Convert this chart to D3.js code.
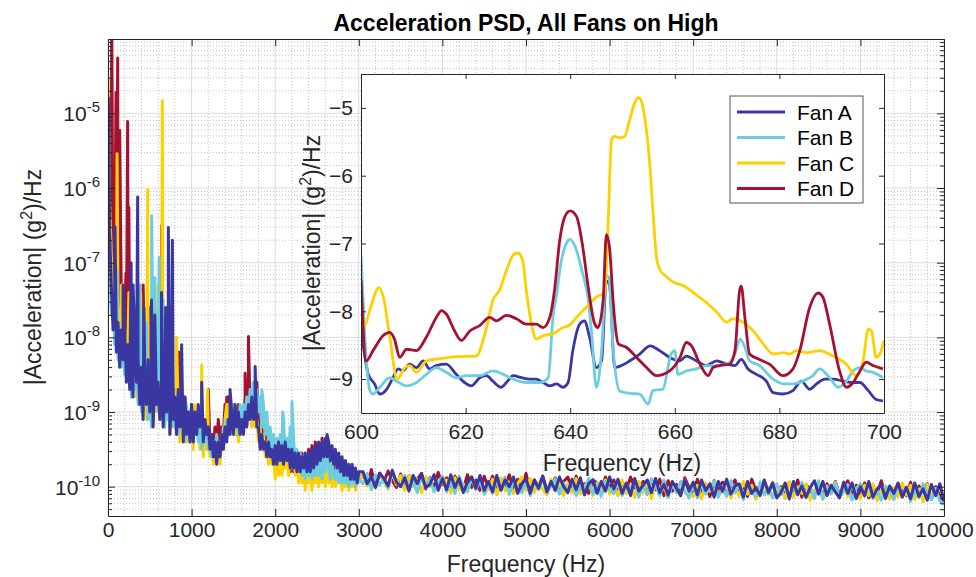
<!DOCTYPE html>
<html>
<head>
<meta charset="utf-8">
<script src="https://cdn.jsdelivr.net/npm/d3@7/dist/d3.min.js"></script>
<style>
  body { margin: 0; background: #fff; }
  svg { font-family: "Liberation Sans", Arial, Helvetica, sans-serif; }
</style>
</head>
<body>
<div id="root"></div>
<script>
// ---- data (log10 of PSD, g^2/Hz) ----
// 0..3000 Hz every 20 Hz
const lowStep = 20;
// 3050..10000 Hz every 50 Hz
const highStart = 3050;
const highStep = 50;

const fanALow = [
  -4.9, -6.6, -7.3, -7.9, -7.5, -8.2, -7.8, -8.4, -7.9, -8.3,
  -7.9, -8.6, -8.1, -8.7, -8.2, -8.8, -8.0, -8.6, -8.3, -8.9,
  -8.4, -9.1, -8.5, -8.9, -8.3, -9.0, -8.6, -9.2, -8.5, -8.9,
  -8.6, -9.1, -8.7, -9.2, -8.6, -9.0, -8.7, -9.3, -8.8, -9.1,
  -8.8, -9.3, -8.7, -9.2, -8.9, -9.4, -8.8, -9.3, -9.0, -9.4,
  -8.9, -9.4, -9.0, -9.3, -8.9, -9.2, -9.0, -9.4, -9.1, -9.3,
  -9.2, -9.5, -9.3, -9.6, -9.4, -9.7, -9.4, -9.6, -9.3, -9.5,
  -9.2, -9.4, -9.1, -9.3, -9.0, -9.3, -8.9, -9.2, -9.0, -9.3,
  -9.1, -9.3, -9.0, -9.2, -8.9, -9.1, -8.8, -9.1, -8.9, -9.2,
  -9.2, -9.5, -9.3, -9.5, -9.4, -9.6, -9.4, -9.6, -9.5, -9.7,
  -9.45, -9.7, -9.4, -9.65, -9.45, -9.7, -9.4, -9.65, -9.5, -9.75,
  -9.5, -9.75, -9.55, -9.8, -9.55, -9.8, -9.6, -9.75, -9.55, -9.8,
  -9.55, -9.8, -9.5, -9.75, -9.45, -9.7, -9.4, -9.65, -9.4, -9.6,
  -9.35, -9.6, -9.4, -9.65, -9.45, -9.7, -9.5, -9.75, -9.55, -9.8,
  -9.6, -9.85, -9.65, -9.85, -9.7, -9.9, -9.7, -9.9, -9.75, -9.95,
  -9.8
];
const fanBLow = [
  -5.6, -7.0, -7.7, -7.4, -8.1, -7.7, -8.3, -7.9, -8.4, -8.1,
  -8.5, -8.1, -8.6, -8.2, -8.8, -8.4, -8.7, -8.3, -8.9, -8.5,
  -9.0, -8.5, -8.9, -8.6, -9.1, -8.7, -9.2, -8.5, -8.9, -8.6,
  -9.0, -8.7, -9.1, -8.6, -9.2, -8.8, -9.1, -8.7, -9.2, -8.8,
  -9.2, -8.8, -9.3, -8.9, -9.2, -9.0, -9.4, -8.9, -9.3, -9.1,
  -9.4, -9.0, -9.3, -9.1, -9.4, -9.1, -9.5, -9.2, -9.4, -9.3,
  -9.5, -9.3, -9.6, -9.4, -9.5, -9.3, -9.6, -9.4, -9.5, -9.2,
  -9.4, -9.1, -9.3, -9.0, -9.2, -8.9, -9.1, -9.0, -9.3, -8.9,
  -9.2, -8.9, -9.1, -8.8, -9.0, -8.7, -8.9, -8.6, -9.0, -8.7,
  -9.0, -8.8, -9.2, -8.9, -9.3, -9.0, -9.4, -9.2, -9.5, -9.3,
  -9.7, -9.35, -9.65, -9.3, -9.6, -9.1, -9.65, -9.35, -9.6, -9.2,
  -9.65, -9.35, -9.75, -9.5, -9.8, -9.55, -9.85, -9.6, -9.9, -9.6,
  -9.85, -9.6, -9.9, -9.65, -9.85, -9.6, -9.85, -9.65, -9.9, -9.6,
  -9.8, -9.55, -9.75, -9.9, -9.65, -9.85, -9.9, -9.7, -9.95, -9.75,
  -9.95, -9.7, -9.95, -9.8, -10.0, -9.8, -9.95, -9.85, -10.0, -9.8,
  -9.9
];
const fanCLow = [
  -4.6, -6.2, -6.9, -7.5, -7.2, -7.9, -7.5, -8.2, -7.7, -8.3,
  -7.9, -8.4, -8.0, -8.6, -8.1, -8.7, -8.3, -8.8, -8.2, -8.9,
  -8.4, -9.0, -8.5, -9.1, -8.5, -8.9, -8.6, -9.1, -8.7, -9.0,
  -8.6, -9.1, -8.7, -9.2, -8.8, -9.1, -8.7, -9.3, -8.9, -9.2,
  -8.8, -9.3, -9.0, -9.4, -8.9, -9.3, -9.1, -9.4, -9.0, -9.4,
  -9.1, -9.5, -8.9, -9.3, -9.1, -9.5, -9.2, -9.6, -9.3, -9.5,
  -9.3, -9.6, -9.4, -9.7, -9.5, -9.6, -9.4, -9.7, -9.3, -9.5,
  -9.1, -8.9, -9.2, -8.9, -9.1, -9.0, -9.3, -9.1, -9.4, -9.2,
  -9.3, -9.1, -9.2, -9.0, -9.1, -8.9, -9.2, -9.0, -9.2, -9.1,
  -9.4, -9.2, -9.5, -9.3, -9.6, -9.4, -9.7, -9.5, -9.7, -9.6,
  -9.9, -9.6, -9.85, -9.55, -9.85, -9.5, -9.75, -9.55, -9.85, -9.5,
  -9.75, -9.5, -9.85, -9.6, -9.95, -9.7, -9.95, -9.75, -10.05, -9.8,
  -9.95, -9.7, -10.05, -9.8, -9.95, -9.7, -10.0, -9.75, -9.95, -9.7,
  -10.0, -9.75, -9.95, -9.7, -10.0, -9.8, -10.0, -9.75, -9.95, -9.8,
  -10.05, -9.8, -10.0, -9.75, -10.05, -9.85, -10.0, -9.8, -10.05, -9.85,
  -9.95
];
const fanDLow = [
  -5.2, -6.0, -6.7, -7.3, -7.0, -7.7, -7.4, -8.0, -7.6, -8.1,
  -7.7, -8.2, -7.8, -8.4, -8.0, -8.5, -8.1, -8.6, -8.2, -8.7,
  -8.3, -8.8, -8.4, -8.6, -8.2, -8.8, -8.5, -8.9, -8.4, -8.9,
  -8.6, -9.0, -8.5, -8.9, -8.7, -9.1, -8.6, -9.0, -8.8, -9.1,
  -8.7, -9.2, -8.8, -9.1, -8.9, -9.3, -8.8, -9.2, -9.0, -9.3,
  -8.9, -9.3, -9.0, -9.2, -9.1, -9.4, -9.0, -9.3, -9.2, -9.4,
  -9.2, -9.5, -9.3, -9.5, -9.2, -9.4, -9.1, -9.4, -9.2, -9.3,
  -8.9, -9.2, -8.8, -9.1, -8.9, -9.2, -9.0, -9.3, -8.9, -9.2,
  -9.0, -9.2, -8.8, -9.1, -8.7, -9.0, -8.8, -9.1, -8.9, -9.2,
  -9.1, -9.4, -9.2, -9.4, -9.3, -9.5, -9.3, -9.6, -9.4, -9.6,
  -9.55, -9.75, -9.45, -9.7, -9.5, -9.75, -9.45, -9.7, -9.5, -9.8,
  -9.55, -9.8, -9.55, -9.75, -9.6, -9.8, -9.55, -9.75, -9.6, -9.85,
  -9.5, -9.75, -9.45, -9.7, -9.4, -9.6, -9.45, -9.7, -9.45, -9.65,
  -9.45, -9.7, -9.55, -9.8, -9.6, -9.8, -9.6, -9.85, -9.7, -9.85,
  -9.75, -9.9, -9.75, -9.95, -9.8, -9.9, -9.75, -9.95, -9.8, -9.9,
  -9.85
];

const fanAHigh = [
  -9.80, -9.96, -9.87, -10.01, -9.82, -9.89, -9.99, -9.78, -9.94, -10.00,
  -9.88, -10.06, -9.85, -9.96, -9.83, -10.01, -9.97, -9.84, -10.05, -9.89,
  -10.04, -9.84, -10.01, -9.89, -10.08, -9.94, -9.87, -10.02, -9.85, -10.05,
  -9.93, -10.07, -9.85, -10.05, -9.91, -10.00, -9.87, -10.09, -9.96, -9.89,
  -10.09, -9.91, -10.02, -9.86, -10.07, -9.93, -10.05, -9.87, -10.00, -10.08,
  -9.90, -10.04, -9.88, -10.11, -9.96, -9.91, -10.09, -9.93, -10.06, -9.87,
  -10.03, -9.90, -10.09, -9.95, -10.12, -9.89, -10.06, -9.98, -9.91, -10.08,
  -9.89, -10.08, -9.97, -10.11, -9.93, -10.02, -10.12, -9.91, -10.06, -9.94,
  -10.11, -9.91, -10.05, -9.96, -10.14, -9.93, -10.06, -9.90, -10.10, -9.99,
  -9.96, -10.14, -9.93, -10.09, -10.01, -10.12, -9.91, -10.08, -9.95, -10.15,
  -10.08, -9.95, -10.16, -9.93, -10.11, -9.99, -10.14, -10.01, -9.92, -10.10,
  -9.93, -10.12, -9.98, -10.07, -10.15, -9.94, -10.09, -9.95, -10.16, -10.00,
  -10.12, -9.93, -10.14, -10.03, -9.97, -10.16, -9.99, -10.09, -9.95, -10.14,
  -10.01, -10.16, -9.95, -10.13, -10.03, -10.18, -9.97, -10.12, -9.96, -10.20
];
const fanBHigh = [
  -9.96, -9.82, -10.04, -9.84, -9.98, -9.89, -10.02, -9.80, -9.93, -10.00,
  -9.85, -10.03, -9.92, -10.08, -9.87, -10.01, -9.89, -10.07, -9.94, -9.86,
  -10.07, -9.93, -10.09, -9.86, -10.01, -10.06, -9.88, -10.04, -9.91, -10.10,
  -9.96, -10.09, -9.90, -10.04, -9.87, -10.10, -9.93, -10.01, -10.08, -9.91,
  -10.12, -9.93, -10.04, -9.90, -10.08, -9.99, -9.89, -10.10, -9.95, -10.07,
  -9.92, -10.12, -9.98, -10.07, -9.89, -10.10, -9.97, -10.13, -9.93, -10.04,
  -10.09, -9.91, -10.12, -9.96, -10.04, -9.93, -10.14, -9.97, -10.10, -9.90,
  -9.99, -10.12, -9.91, -10.14, -9.96, -10.08, -9.93, -10.06, -10.15, -9.97,
  -10.15, -9.96, -10.10, -10.01, -9.93, -10.14, -9.99, -10.13, -9.92, -10.08,
  -9.98, -10.17, -9.96, -10.07, -10.13, -9.94, -10.11, -10.01, -10.15, -9.96,
  -10.11, -9.96, -10.17, -9.99, -10.09, -9.94, -10.15, -10.00, -10.16, -9.92,
  -10.16, -10.00, -10.09, -9.95, -10.14, -10.07, -9.97, -10.18, -10.02, -9.96,
  -10.13, -9.95, -10.16, -10.05, -10.18, -10.00, -10.04, -10.17, -9.96, -10.12,
  -10.00, -10.20, -10.03, -10.15, -9.96, -10.10, -10.17, -10.02, -10.19, -10.24
];
const fanCHigh = [
  -9.80, -9.99, -9.88, -10.02, -9.84, -9.93, -10.03, -9.82, -9.97, -9.85,
  -10.05, -9.85, -9.99, -9.90, -10.08, -9.87, -10.00, -9.84, -10.04, -9.93,
  -9.91, -10.09, -9.88, -10.04, -9.96, -10.07, -9.86, -10.03, -9.90, -10.10,
  -10.03, -9.90, -10.11, -9.88, -10.06, -9.94, -10.09, -9.96, -9.87, -10.05,
  -9.89, -10.08, -9.94, -10.03, -10.11, -9.90, -10.05, -9.91, -10.12, -9.96,
  -10.08, -9.89, -10.10, -9.99, -9.93, -10.12, -9.95, -10.05, -9.91, -10.10,
  -9.97, -10.12, -9.91, -10.09, -9.99, -10.14, -9.93, -10.08, -9.92, -10.16,
  -9.93, -10.09, -10.00, -10.14, -9.95, -10.02, -10.12, -9.91, -10.07, -10.13,
  -9.98, -10.16, -9.95, -10.06, -9.93, -10.11, -10.07, -9.94, -10.15, -9.99,
  -10.13, -9.93, -10.10, -9.98, -10.17, -10.03, -9.96, -10.11, -9.94, -10.14,
  -10.02, -10.16, -9.94, -10.14, -10.00, -10.09, -9.96, -10.18, -10.05, -9.98,
  -10.17, -9.99, -10.10, -9.94, -10.15, -10.01, -10.13, -9.95, -10.08, -10.16,
  -9.98, -10.12, -9.96, -10.19, -10.04, -9.99, -10.17, -10.01, -10.14, -9.95,
  -10.11, -9.98, -10.17, -10.03, -10.20, -9.97, -10.14, -10.06, -9.99, -10.16
];
const fanDHigh = [
  -9.85, -9.98, -9.77, -10.00, -9.82, -9.94, -9.79, -9.92, -10.01, -9.83,
  -10.04, -9.85, -9.99, -9.90, -9.82, -10.03, -9.88, -10.02, -9.81, -9.97,
  -9.88, -10.07, -9.86, -9.97, -10.03, -9.84, -10.01, -9.91, -10.05, -9.86,
  -10.01, -9.86, -10.07, -9.89, -9.99, -9.84, -10.05, -9.90, -10.06, -9.82,
  -10.07, -9.91, -10.00, -9.86, -10.05, -9.98, -9.88, -10.09, -9.93, -9.87,
  -10.04, -9.86, -10.07, -9.96, -10.09, -9.91, -9.95, -10.08, -9.87, -10.03,
  -9.91, -10.11, -9.94, -10.06, -9.87, -10.01, -10.08, -9.93, -10.10, -9.90,
  -10.04, -9.90, -10.12, -9.92, -10.06, -9.97, -10.10, -9.88, -10.01, -10.08,
  -9.90, -10.08, -9.97, -10.13, -9.92, -10.06, -9.94, -10.12, -9.99, -9.91,
  -10.11, -9.97, -10.13, -9.90, -10.05, -10.10, -9.92, -10.08, -9.95, -10.14,
  -10.00, -10.13, -9.94, -10.08, -9.91, -10.14, -9.97, -10.05, -10.12, -9.95,
  -10.15, -9.96, -10.07, -9.93, -10.11, -10.02, -9.92, -10.13, -9.98, -10.10,
  -9.95, -10.15, -10.01, -10.10, -9.92, -10.13, -10.00, -10.16, -9.96, -10.07,
  -10.12, -9.94, -10.15, -9.99, -10.07, -9.96, -10.17, -10.00, -10.13, -10.18
];

// narrow tonal peaks [Hz, log10 PSD]
const fanAPeaks = [[4, -4.79], [10, -5.3], [84, -6.52], [180, -7.3], [276, -7.0], [300, -7.3], [355, -6.12], [430, -7.6], [520, -7.5], [560, -7.7], [640, -7.4], [690, -7.6], [722, -6.53], [770, -6.7], [880, -8.1], [1120, -8.6], [1460, -8.7], [1760, -8.39], [2620, -9.3]];
const fanBPeaks = [[108, -7.1], [300, -7.5], [380, -7.3], [460, -7.8], [522, -6.37], [560, -7.2], [612, -6.93], [660, -7.5], [700, -7.9], [760, -7.8], [1480, -8.9], [1735, -8.6], [1840, -8.7], [2090, -9.0], [2200, -8.86]];
const fanCPeaks = [[2, -4.52], [108, -5.54], [160, -7.3], [250, -7.4], [330, -7.6], [390, -7.4], [475, -6.02], [560, -7.6], [600, -7.3], [650, -4.83], [720, -7.7], [820, -8.0], [1120, -8.37], [1190, -8.7], [1440, -8.9]];
const fanDPeaks = [[44, -3.5], [96, -4.72], [116, -4.26], [140, -5.23], [170, -7.3], [215, -7.14], [235, -5.11], [250, -6.26], [280, -7.5], [330, -7.7], [420, -7.3], [500, -7.6], [642, -6.5], [760, -7.9], [850, -8.2], [1200, -8.7], [1420, -8.8], [1640, -8.48], [1680, -7.99], [1780, -8.6], [2560, -9.35]];

// inset, 600..700 Hz [Hz, log10 PSD]
const insetFanA = [[600, -8.26], [601.4, -8.93], [602.6, -9.07], [603.6, -9.22], [604.9, -9.15], [606.1, -8.98], [607.1, -8.85], [608, -8.88], [609.3, -8.78], [610.6, -8.83], [611.9, -8.73], [613.1, -8.85], [614.4, -8.8], [616.3, -8.78], [618.2, -8.93], [619.8, -9.05], [621.1, -9.1], [622.7, -8.98], [624, -8.95], [625.2, -9.03], [626.8, -9.12], [627.8, -9.05], [629.1, -8.95], [630.7, -8.98], [632.3, -9.0], [633.5, -9.0], [634.8, -9.05], [636.1, -9.1], [637.4, -9.07], [638.6, -9.12], [639.6, -9.05], [640.5, -8.58], [641.8, -8.19], [642.7, -8.14], [643.7, -8.38], [645, -8.83], [646, -8.73], [646.9, -7.55], [647.5, -7.6], [648.5, -8.83], [649.8, -8.8], [651.4, -8.73], [653.3, -8.63], [655.3, -8.51], [657.1, -8.58], [659, -8.68], [661, -8.73], [662.2, -8.66], [664.1, -8.73], [666, -8.8], [668, -8.73], [669.9, -8.78], [671.5, -8.8], [672.7, -8.71], [674, -8.85], [675.6, -8.93], [677.5, -9.03], [678.8, -9.2], [680.7, -9.22], [682.6, -9.17], [684.2, -9.03], [685.8, -9.15], [687.1, -9.07], [688.7, -9.0], [690.3, -9.0], [692.2, -9.03], [694.1, -9.05], [695.4, -9.05], [697, -9.17], [698.5, -9.3], [699.8, -9.32]];
const insetFanB = [[600, -7.17], [600.7, -8.33], [601.7, -9.17], [602.3, -9.22], [603.6, -9.12], [605.5, -8.98], [606.8, -9.03], [608.7, -9.1], [610.6, -9.05], [612.5, -8.93], [614.4, -8.83], [616.3, -8.9], [618.2, -8.98], [620.1, -8.95], [622.7, -8.95], [625.2, -8.88], [627.2, -8.93], [629.1, -9.0], [631.6, -9.05], [634.2, -9.05], [635.8, -8.98], [636.7, -8.09], [637.5, -7.7], [638.2, -7.3], [639, -7.05], [640, -6.94], [641.2, -7.1], [642.4, -7.45], [643.4, -7.8], [644.1, -8.33], [645, -9.12], [646, -8.58], [646.9, -7.47], [647.4, -7.5], [648.2, -8.53], [649.5, -9.18], [651.4, -9.21], [653.3, -9.22], [654.9, -9.37], [655.8, -9.17], [657.7, -9.15], [659.3, -8.63], [660, -8.58], [660.6, -8.93], [662.2, -8.88], [664.1, -8.85], [666, -8.8], [668, -8.8], [669.9, -8.78], [671.5, -8.63], [672.5, -8.41], [673.4, -8.53], [674.3, -8.73], [676.2, -8.8], [678.8, -9.0], [680.7, -9.07], [682.6, -9.07], [684.5, -9.03], [686.4, -8.95], [687.7, -8.85], [689.6, -8.98], [691.2, -9.12], [692.8, -9.03], [694.1, -8.88], [695.4, -8.83], [696.6, -8.88], [697.9, -8.9], [699.8, -8.98]];
const insetFanC = [[600, -8.05], [600.7, -8.21], [601.8, -7.95], [603.4, -7.65], [604.3, -7.8], [605.5, -8.38], [606.9, -9.0], [608.4, -8.83], [609.3, -8.8], [610.6, -8.9], [612.5, -8.73], [615.1, -8.7], [618.2, -8.67], [622, -8.66], [624, -8.24], [625.2, -7.84], [626.5, -7.69], [627.8, -7.4], [629.1, -7.17], [630, -7.14], [630.9, -7.25], [631.6, -7.69], [632.6, -8.19], [633.5, -8.41], [634.8, -8.36], [636.7, -8.33], [638.6, -8.24], [639.8, -8.21], [641.2, -8.09], [643.1, -7.94], [645, -7.79], [646.6, -7.72], [647.3, -6.6], [647.9, -5.47], [648.5, -5.42], [649.5, -5.44], [650.4, -5.42], [651.4, -5.17], [652.3, -4.93], [653.1, -4.85], [653.6, -4.9], [654.2, -5.12], [655.2, -5.82], [655.8, -6.5], [656.5, -7.2], [657.1, -7.38], [658.4, -7.49], [659.7, -7.57], [661.6, -7.62], [663.5, -7.72], [666, -7.87], [668, -8.01], [669.9, -8.16], [671.1, -8.11], [673, -8.16], [675, -8.29], [676.9, -8.48], [678.8, -8.63], [680.7, -8.61], [682, -8.63], [683.2, -8.58], [685.2, -8.61], [687.7, -8.58], [690.2, -8.66], [692.8, -8.78], [694.7, -8.95], [696, -8.73], [697, -8.26], [697.6, -8.29], [698.5, -8.68], [699.2, -8.63], [700, -8.43]];
const insetFanD = [[600, -7.54], [601, -8.73], [602.3, -8.58], [604.2, -8.36], [605.5, -8.31], [606.4, -8.41], [607.4, -8.68], [608.7, -8.56], [610.6, -8.58], [612.5, -8.38], [614.4, -8.09], [615.4, -7.99], [616.3, -8.04], [617.9, -8.29], [619.2, -8.43], [620.8, -8.29], [622.7, -8.21], [624.6, -8.09], [625.9, -8.14], [627.8, -8.06], [629.7, -8.11], [631.6, -8.19], [633.5, -8.19], [634.8, -8.24], [636.1, -8.09], [637, -7.69], [638, -6.95], [639, -6.6], [640, -6.52], [641.2, -6.6], [642.4, -7.05], [643.4, -7.62], [644.7, -8.19], [645.3, -8.24], [646.3, -7.84], [646.9, -6.87], [647.5, -7.05], [648.2, -7.84], [648.6, -8.2], [649.2, -8.48], [650.7, -8.53], [652.7, -8.68], [654.6, -8.83], [656.5, -8.95], [659, -8.88], [661, -8.68], [662.2, -8.46], [663.2, -8.51], [664.8, -8.78], [666.4, -8.95], [667.3, -8.83], [668.6, -8.8], [670.5, -8.78], [671.5, -8.58], [672.4, -7.69], [672.7, -7.63], [673.4, -8.09], [674.3, -8.63], [676.2, -8.71], [678.1, -8.78], [680.7, -8.95], [682.6, -8.85], [683.9, -8.58], [685.8, -7.94], [687.4, -7.73], [688.3, -7.79], [689.6, -8.19], [691.5, -8.88], [692.8, -9.12], [694.1, -9.05], [695.4, -8.88], [696.6, -8.75], [697.9, -8.8], [699.8, -8.85]];

const fanNames = ['Fan A', 'Fan B', 'Fan C', 'Fan D'];
const fanColors = ['#3b37a2', '#6ccde0', '#fdd000', '#a6112f'];

const mainXTicks = [0, 1000, 2000, 3000, 4000, 5000, 6000, 7000, 8000, 9000, 10000];
const mainYTicks = [1e-10, 1e-9, 1e-8, 1e-7, 1e-6, 1e-5];
const insetXTicks = [600, 620, 640, 660, 680, 700];
const insetYTicks = [-9, -8, -7, -6, -5];

// ---- layout ----
const W = 976, H = 577;
const axisColor = '#262626';
const tickFont = 21, labelFont = 23;

const svg = d3.select('#root').append('svg')
  .attr('width', W).attr('height', H);

const x = d3.scaleLinear().domain([0, 10000]).range([108, 944]);
const y = d3.scaleLog().domain([4.05e-11, 9.9e-5]).range([516, 39]);

const buildSeries = (low, high, peaks) => low.map((e, i) => [i * lowStep, e])
  .concat(high.map((e, i) => [highStart + i * highStep, e]))
  .concat(peaks)
  .sort((a, b) => a[0] - b[0]);

const mainSeries = [
  buildSeries(fanALow, fanAHigh, fanAPeaks),
  buildSeries(fanBLow, fanBHigh, fanBPeaks),
  buildSeries(fanCLow, fanCHigh, fanCPeaks),
  buildSeries(fanDLow, fanDHigh, fanDPeaks)
];

const defs = svg.append('defs');
defs.append('clipPath').attr('id', 'clipMain').append('rect')
  .attr('x', x(0)).attr('y', y.range()[1])
  .attr('width', x(10000) - x(0)).attr('height', y.range()[0] - y.range()[1]);

// grid
const grid = svg.append('g');
const xMinor = d3.range(200, 10000, 200).filter(f => f % 1000 !== 0);
const yMinor = y.ticks().filter(v => Math.abs(Math.log10(v) - Math.round(Math.log10(v))) > 1e-6);
grid.selectAll('.gxm').data(xMinor).join('line')
  .attr('x1', d => x(d)).attr('x2', d => x(d)).attr('y1', 39).attr('y2', 516)
  .attr('stroke', '#c4c4c4').attr('stroke-dasharray', '1,2');
grid.selectAll('.gym').data(yMinor).join('line')
  .attr('x1', 108).attr('x2', 944).attr('y1', d => y(d)).attr('y2', d => y(d))
  .attr('stroke', '#c4c4c4').attr('stroke-dasharray', '1,2');
grid.selectAll('.gx').data(mainXTicks).join('line')
  .attr('x1', d => x(d)).attr('x2', d => x(d)).attr('y1', 39).attr('y2', 516)
  .attr('stroke', '#dcdcdc');
grid.selectAll('.gy').data(mainYTicks).join('line')
  .attr('x1', 108).attr('x2', 944).attr('y1', d => y(d)).attr('y2', d => y(d))
  .attr('stroke', '#dcdcdc');

// main traces (A drawn last, on top)
const mainLine = d3.line().x(d => x(d[0])).y(d => y(Math.pow(10, d[1])));
svg.append('g').attr('clip-path', 'url(#clipMain)')
  .selectAll('path').data([3, 2, 1, 0]).join('path')
  .attr('d', i => mainLine(mainSeries[i]))
  .attr('fill', 'none').attr('stroke', i => fanColors[i])
  .attr('stroke-width', 3).attr('stroke-linejoin', 'round');

const styleAxis = g => {
  g.attr('font-family', null).attr('font-size', tickFont);
  g.select('.domain').attr('stroke', axisColor);
  g.selectAll('.tick line').attr('stroke', axisColor);
  g.selectAll('.tick text').attr('fill', axisColor);
};

// main axes box
svg.append('g').attr('transform', 'translate(0,516)')
  .call(d3.axisBottom(x).tickValues(mainXTicks).tickSize(-7).tickSizeOuter(0).tickPadding(6).tickFormat(d3.format('d')))
  .call(styleAxis);
svg.append('g').attr('transform', 'translate(0,39)')
  .call(d3.axisTop(x).tickValues(mainXTicks).tickSize(-7).tickSizeOuter(0).tickFormat(''))
  .call(styleAxis);
[[d3.axisLeft, 108], [d3.axisRight, 944]].forEach(([axisFn, px]) => {
  svg.append('g').attr('transform', `translate(${px},0)`)
    .call(axisFn(y).tickValues(mainYTicks).tickSize(-7).tickSizeOuter(0).tickFormat(''))
    .call(styleAxis);
  svg.append('g').attr('transform', `translate(${px},0)`)
    .call(axisFn(y).tickValues(yMinor).tickSize(-4).tickSizeOuter(0).tickFormat(''))
    .call(styleAxis)
    .select('.domain').remove();
});

// log tick labels 10^n
const yLabels = svg.append('g').selectAll('text').data(mainYTicks).join('text')
  .attr('x', 100).attr('y', d => y(d) + 8)
  .attr('text-anchor', 'end').attr('font-size', tickFont).attr('fill', axisColor);
yLabels.append('tspan').text('10');
yLabels.append('tspan').attr('dy', -9).attr('font-size', 15)
  .text(d => String(Math.round(Math.log10(d))));

// ---- inset ----
const xi = d3.scaleLinear().domain([600, 700]).range([361, 884]);
const yi = d3.scaleLinear().domain([-9.5, -4.5]).range([413, 74]);

defs.append('clipPath').attr('id', 'clipInset').append('rect')
  .attr('x', 361).attr('y', 74).attr('width', 523).attr('height', 339);

svg.append('rect').attr('x', 361).attr('y', 74).attr('width', 523).attr('height', 339)
  .attr('fill', '#fff');

const insetSeries = [insetFanA, insetFanB, insetFanC, insetFanD];
const insetLine = d3.line().x(d => xi(d[0])).y(d => yi(d[1])).curve(d3.curveMonotoneX);
svg.append('g').attr('clip-path', 'url(#clipInset)')
  .selectAll('path').data(insetSeries).join('path')
  .attr('d', insetLine)
  .attr('fill', 'none').attr('stroke', (d, i) => fanColors[i])
  .attr('stroke-width', 2.8).attr('stroke-linejoin', 'round');

svg.append('g').attr('transform', 'translate(0,413)')
  .call(d3.axisBottom(xi).tickValues(insetXTicks).tickSize(-5).tickSizeOuter(0).tickPadding(11))
  .call(styleAxis);
svg.append('g').attr('transform', 'translate(0,74)')
  .call(d3.axisTop(xi).tickValues(insetXTicks).tickSize(-5).tickSizeOuter(0).tickFormat(''))
  .call(styleAxis);
svg.append('g').attr('transform', 'translate(361,0)')
  .call(d3.axisLeft(yi).tickValues(insetYTicks).tickSize(-5).tickSizeOuter(0).tickPadding(8).tickFormat(d3.format('d')))
  .call(styleAxis);
svg.append('g').attr('transform', 'translate(884,0)')
  .call(d3.axisRight(yi).tickValues(insetYTicks).tickSize(-5).tickSizeOuter(0).tickFormat(''))
  .call(styleAxis);

// legend
const legend = svg.append('g');
legend.append('rect').attr('x', 730).attr('y', 96).attr('width', 133).attr('height', 107)
  .attr('fill', '#fff').attr('stroke', '#555').attr('stroke-width', 1);
const rows = legend.selectAll('g').data(fanNames).join('g')
  .attr('transform', (d, i) => `translate(0,${112 + i * 25.5})`);
rows.append('line').attr('x1', 737).attr('x2', 785)
  .attr('stroke', (d, i) => fanColors[i]).attr('stroke-width', 3);
rows.append('text').attr('x', 797).attr('y', 7.5)
  .attr('font-size', tickFont).attr('fill', '#000').text(d => d);

// ---- labels ----
const yLabelText = (sel, cx, cy) => {
  const t = sel.append('text').attr('transform', `translate(${cx},${cy}) rotate(-90)`)
    .attr('text-anchor', 'middle').attr('font-size', labelFont).attr('fill', axisColor);
  t.append('tspan').text('|Acceleration| (g');
  t.append('tspan').attr('dy', -9).attr('font-size', 16).text('2');
  t.append('tspan').attr('dy', 9).text(')/Hz');
};
yLabelText(svg, 41, 277);
yLabelText(svg, 320, 243);

svg.append('text').attr('x', 526).attr('y', 572).attr('text-anchor', 'middle')
  .attr('font-size', labelFont).attr('fill', axisColor).text('Frequency (Hz)');
svg.append('text').attr('x', 622).attr('y', 471).attr('text-anchor', 'middle')
  .attr('font-size', labelFont).attr('fill', axisColor).text('Frequency (Hz)');
svg.append('text').attr('x', 526).attr('y', 31).attr('text-anchor', 'middle')
  .attr('font-size', labelFont).attr('font-weight', 'bold').attr('fill', '#000')
  .text('Acceleration PSD, All Fans on High');
</script>
</body>
</html>
